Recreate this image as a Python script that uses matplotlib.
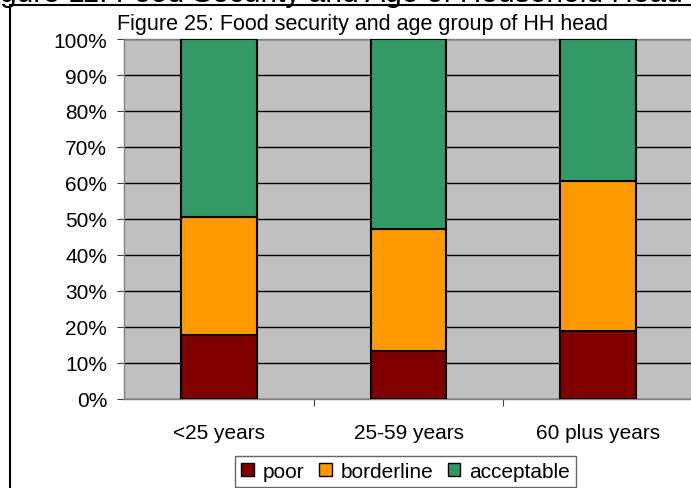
import numpy as np
import matplotlib
matplotlib.use("Agg")
import matplotlib.pyplot as plt
from matplotlib.lines import Line2D
from matplotlib.patches import Patch

plt.rcParams['font.family'] = ['Liberation Sans', 'DejaVu Sans']

# share of households (%) in each food consumption group, by age of HH head
age_groups = ["<25 years", "25-59 years", "60 plus years"]
poor = [17.8, 13.3, 18.9]
borderline = [32.8, 33.9, 41.7]
acceptable = [49.4, 52.8, 39.4]

series = ["poor", "borderline", "acceptable"]
colors = ["#800000", "#FF9900", "#339966"]

W, H = 691, 489
fig = plt.figure(figsize=(W / 100, H / 100), dpi=100)
ax = fig.add_axes([124 / W, (H - 400) / H, (693 - 124) / W, 360 / H])
ax.set_facecolor("#C0C0C0")

x = np.arange(len(age_groups))
bottom = np.zeros(len(age_groups))
for vals, col in zip([poor, borderline, acceptable], colors):
    ax.bar(x, vals, width=0.4, bottom=bottom, color=col, edgecolor="black",
           linewidth=1.5, zorder=3)
    bottom += np.array(vals)

ax.set_xlim(-0.5, 2.5)
ax.set_ylim(0, 100)
ax.set_yticks(np.arange(0, 101, 10))
ax.set_yticklabels([f"{v}%" for v in range(0, 101, 10)], fontsize=15)
ax.yaxis.grid(True, color="black", linewidth=1)
ax.set_axisbelow(True)

# category separators as major ticks, names as minor ticks
ax.set_xticks([0.5, 1.5, 2.5])
ax.set_xticklabels([])
ax.set_xticks(x, minor=True)
ax.set_xticklabels(age_groups, minor=True, fontsize=15)
ax.tick_params(axis="x", which="major", length=5, color="#404040")
ax.tick_params(axis="x", which="minor", length=0, pad=17)
ax.tick_params(axis="y", length=5, pad=7, color="#404040")
for s in ax.spines.values():
    s.set_color("#808080")
    s.set_linewidth(1)

ax.text(-7 / 569, 101.5, "Figure 25: Food security and age group of HH head",
        transform=ax.get_yaxis_transform(), fontsize=15.5, va="bottom", ha="left")

handles = [Patch(facecolor=c, edgecolor="black", linewidth=1) for c in colors]
leg = fig.legend(handles, series, loc="center", bbox_to_anchor=(405.5 / W, (H - 472.5) / H),
                 ncol=3, fontsize=15, frameon=True, fancybox=False, handlelength=0.62,
                 handleheight=0.62, handletextpad=0.4, columnspacing=0.7, borderpad=0.3,
                 edgecolor="#404040")
leg.get_frame().set_linewidth(1)

# outer caption and frame of the surrounding report figure
fig.text(-25 / W, 1 - 2 / H, "Figure 11: Food Security and Age of Household Head",
         fontsize=21.5, va="baseline", ha="left")
fig.add_artist(Line2D([9.5 / W, 1], [1 - 6 / H, 1 - 6 / H], transform=fig.transFigure,
                      color="black", linewidth=1.5))
fig.add_artist(Line2D([9.5 / W, 9.5 / W], [0, 1 - 6 / H], transform=fig.transFigure,
                      color="black", linewidth=1.5))

fig.savefig("out.png", dpi=100)
